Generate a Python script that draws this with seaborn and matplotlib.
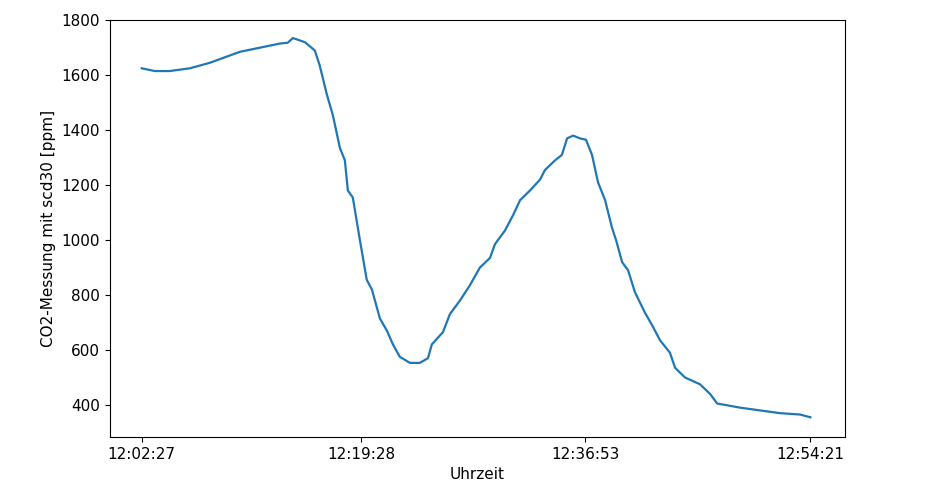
import matplotlib
matplotlib.use("Agg")
import matplotlib.pyplot as plt
import seaborn as sns
import pandas as pd

# seconds since 12:02:27 and CO2 readings (ppm)
seconds = [0, 61, 130, 224, 317, 387, 457, 550, 643, 680, 704, 760, 806, 829, 862, 890,
           923, 946, 960, 983, 1016, 1048, 1072, 1109, 1142, 1170, 1202, 1249, 1295, 1333,
           1351, 1403, 1435, 1482, 1528, 1575, 1622, 1645, 1692, 1729, 1762, 1808, 1855,
           1878, 1925, 1957, 1981, 2009, 2041, 2069, 2097, 2125, 2158, 2190, 2209, 2237,
           2265, 2297, 2344, 2377, 2414, 2460, 2484, 2530, 2600, 2647, 2680, 2717, 2787,
           2880, 2973, 3066, 3114]
co2 = [1625, 1615, 1615, 1625, 1645, 1665, 1685, 1700, 1715, 1718, 1735, 1720, 1690, 1635,
       1530, 1455, 1335, 1290, 1180, 1155, 1000, 855, 820, 715, 670, 620, 575, 553, 553, 570,
       620, 665, 730, 780, 835, 900, 935, 985, 1035, 1090, 1145, 1180, 1220, 1255, 1290,
       1310, 1370, 1380, 1370, 1365, 1310, 1210, 1145, 1045, 1000, 920, 890, 810, 735, 690,
       635, 590, 535, 500, 475, 440, 405, 400, 390, 380, 370, 365, 355]
tick_seconds = [0, 1021, 2066, 3114]
tick_labels = ["12:02:27", "12:19:28", "12:36:53", "12:54:21"]

df = pd.DataFrame({"t": seconds, "co2": co2})
plt.rcParams["font.size"] = 11

fig = plt.figure(figsize=(9.3, 4.93), dpi=100)
ax = fig.add_axes([0.118, 0.114, 0.791, 0.845])
sns.lineplot(data=df, x="t", y="co2", ax=ax, color="#1f77b4", linewidth=1.6)
ax.set_xticks(tick_seconds)
ax.set_xticklabels(tick_labels)
ax.set_xlim(-149, 3277)
ax.set_ylim(284, 1800)
ax.set_xlabel("Uhrzeit")
ax.set_ylabel("CO2-Messung mit scd30 [ppm]")
fig.savefig("out.png", dpi=100)
